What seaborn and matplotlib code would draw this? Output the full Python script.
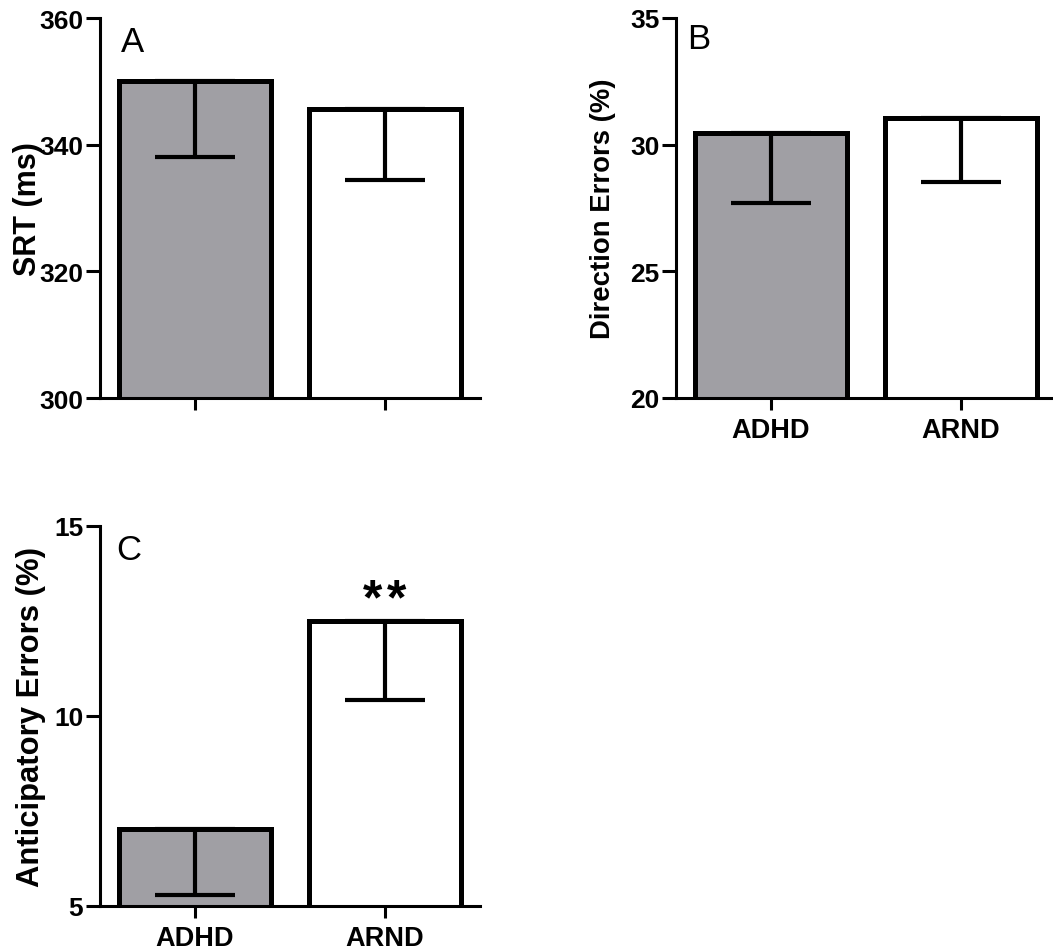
import matplotlib
matplotlib.use("Agg")
import matplotlib.pyplot as plt
import seaborn as sns

# group labels and bar colours
groups = ["ADHD", "ARND"]
bar_colors = ["#a09fa4", "#ffffff"]

# panel A: saccadic reaction time (ms), mean and lower error
srt_mean = [350.0, 345.6]
srt_err = [12.0, 11.2]

# panel B: direction errors (%)
dir_mean = [30.47, 31.05]
dir_err = [2.78, 2.51]

# panel C: anticipatory errors (%)
ant_mean = [7.03, 12.49]
ant_err = [1.75, 2.07]

panels = [
    dict(letter="A", mean=srt_mean, err=srt_err, ylabel="SRT (ms)",
         ylim=(300, 360), yticks=[300, 320, 340, 360], xlabels=False,
         pos=[100, 399], label_size=22, label_x=-0.150,
         letter_xy=(0.055, 0.913)),
    dict(letter="B", mean=dir_mean, err=dir_err, ylabel="Direction Errors (%)",
         ylim=(20, 35), yticks=[20, 25, 30, 35], xlabels=True,
         pos=[676, 399], label_size=19.8, label_x=-0.158,
         letter_xy=(0.030, 0.921)),
    dict(letter="C", mean=ant_mean, err=ant_err, ylabel="Anticipatory Errors (%)",
         ylim=(5, 15), yticks=[5, 10, 15], xlabels=True,
         pos=[100, 907], label_size=22.3, label_x=-0.142,
         letter_xy=(0.042, 0.913)),
]

sns.set_style("ticks")
plt.rcParams["font.family"] = ["Liberation Sans", "DejaVu Sans"]
plt.rcParams["text.color"] = "black"
plt.rcParams["axes.labelcolor"] = "black"

W, H = 1053, 953
fig = plt.figure(figsize=(W / 100, H / 100), dpi=100)

for p in panels:
    left, bottom = p["pos"]
    ax = fig.add_axes([left / W, 1 - bottom / H, 380 / W, 380 / H])
    sns.barplot(x=groups, y=p["mean"], hue=groups, palette=bar_colors,
                edgecolor="black", linewidth=3.6, width=0.8, legend=False,
                saturation=1, ax=ax)
    ax.errorbar(range(len(groups)), p["mean"],
                yerr=[p["err"], [0] * len(groups)], fmt="none",
                ecolor="black", elinewidth=3.0, capsize=28.8, capthick=3.0,
                zorder=5)
    ax.set_xlim(-0.5, 1.5)
    ax.set_ylim(*p["ylim"])
    ax.set_yticks(p["yticks"])
    ax.set_ylabel(p["ylabel"], fontsize=p["label_size"], fontweight="bold")
    ax.yaxis.set_label_coords(p["label_x"], 0.5)
    ax.set_xlabel("")
    ax.set_xticks(range(len(groups)))
    if p["xlabels"]:
        ax.set_xticklabels(groups, fontsize=19.5, fontweight="bold")
    else:
        ax.set_xticklabels([])
    for lbl in ax.get_yticklabels():
        lbl.set_fontsize(19)
        lbl.set_fontweight("bold")
    ax.tick_params(axis="y", length=10, width=2.2, pad=2, colors="black")
    ax.tick_params(axis="x", length=8.6, width=2.2, pad=5, colors="black")
    sns.despine(ax=ax)
    for side in ["left", "bottom"]:
        ax.spines[side].set_linewidth(2.2)
        ax.spines[side].set_color("black")
    ax.text(*p["letter_xy"], p["letter"], transform=ax.transAxes,
            fontsize=25, ha="left", va="baseline", color="black")
    if p["letter"] == "C":
        # significance marker over ARND bar
        for dx in (-0.063, 0.063):
            ax.text(1 + dx, 13.05, "*", fontsize=36, fontweight="bold",
                    ha="center", va="center", color="black")

fig.savefig("out.png", dpi=100)
